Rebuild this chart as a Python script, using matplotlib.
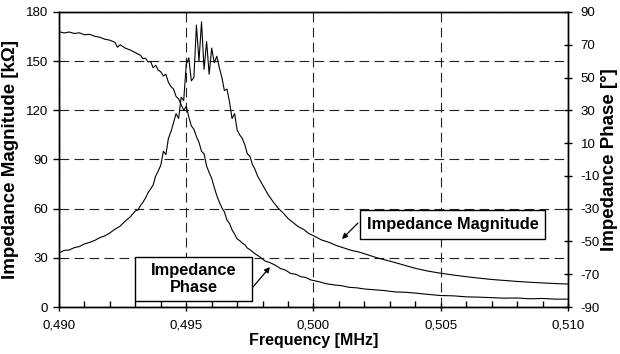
import numpy as np
import matplotlib
matplotlib.use('Agg')
import matplotlib.pyplot as plt
from matplotlib.patches import Rectangle
from matplotlib.ticker import MultipleLocator, FixedLocator, FuncFormatter

# Dados (frequência em MHz)
mag_freq = [0.4900, 0.4902, 0.4904, 0.4906, 0.4908, 0.4910, 0.4912, 0.4914, 0.4916, 0.4918,
            0.4920, 0.4922, 0.4924, 0.4926, 0.4928, 0.4930, 0.4931, 0.4932, 0.4933, 0.4934,
            0.4935, 0.4936, 0.4937, 0.4938, 0.4939, 0.4940, 0.4941, 0.4942, 0.4943, 0.4944,
            0.4945, 0.4946, 0.4947, 0.4948, 0.4949, 0.4950, 0.4951, 0.4952, 0.4953, 0.4954,
            0.4955, 0.4956, 0.4957, 0.4958, 0.4959, 0.4960, 0.4961, 0.4962, 0.4963, 0.4964,
            0.4965, 0.4966, 0.4967, 0.4968, 0.4969, 0.4970, 0.4971, 0.4972, 0.4973, 0.4974,
            0.4975, 0.4976, 0.4977, 0.4978, 0.4980, 0.4982, 0.4984, 0.4986, 0.4988, 0.4990,
            0.4992, 0.4994, 0.4996, 0.4998, 0.5000, 0.5003, 0.5006, 0.5009, 0.5012, 0.5015,
            0.5018, 0.5021, 0.5025, 0.5030, 0.5035, 0.5040, 0.5045, 0.5050, 0.5055, 0.5060,
            0.5065, 0.5070, 0.5075, 0.5080, 0.5085, 0.5090, 0.5095, 0.5100]
mag_kohm = [33.0, 34.5, 34.8, 36.2, 36.9, 38.5, 39.4, 40.6, 42.3, 43.4,
            45.2, 47.5, 49.3, 52.4, 55.0, 58.6, 59.2, 61.8, 64.0, 66.5,
            69.8, 72.0, 74.5, 80.0, 83.0, 86.5, 95.0, 93.0, 103.0, 107.0,
            112.5, 118.0, 115.0, 128.0, 126.0, 148.0, 152.0, 138.0, 140.0, 172.0,
            150.0, 174.0, 145.0, 162.0, 142.0, 158.0, 149.0, 153.0, 146.0, 140.0,
            132.0, 133.0, 125.0, 115.0, 118.0, 108.0, 105.0, 103.0, 99.0, 93.5,
            92.0, 87.0, 84.0, 80.0, 74.5, 69.0, 64.5, 60.5, 57.5, 54.0,
            51.5, 49.0, 47.5, 45.0, 43.5, 41.0, 39.5, 37.5, 36.0, 34.5,
            33.5, 32.0, 30.0, 28.0, 25.8, 23.6, 21.9, 20.6, 19.5, 18.5,
            17.6, 16.8, 16.2, 15.6, 15.1, 14.7, 14.3, 14.0]

ph_freq = [0.4900, 0.4902, 0.4904, 0.4906, 0.4908, 0.4910, 0.4912, 0.4914, 0.4916, 0.4918,
           0.4920, 0.4922, 0.4923, 0.4924, 0.4926, 0.4928, 0.4930, 0.4932, 0.4933, 0.4934,
           0.4935, 0.4936, 0.4937, 0.4938, 0.4939, 0.4940, 0.4941, 0.4942, 0.4943, 0.4944,
           0.4945, 0.4946, 0.4947, 0.4948, 0.4949, 0.4950, 0.4951, 0.4952, 0.4953, 0.4954,
           0.4955, 0.4956, 0.4957, 0.4958, 0.4959, 0.4960, 0.4961, 0.4962, 0.4963, 0.4964,
           0.4965, 0.4966, 0.4967, 0.4968, 0.4969, 0.4970, 0.4971, 0.4972, 0.4973, 0.4974,
           0.4975, 0.4977, 0.4979, 0.4981, 0.4983, 0.4985, 0.4987, 0.4989, 0.4991, 0.4993,
           0.4995, 0.4997, 0.4999, 0.5002, 0.5005, 0.5008, 0.5011, 0.5014, 0.5017, 0.5020,
           0.5024, 0.5028, 0.5032, 0.5036, 0.5040, 0.5045, 0.5050, 0.5055, 0.5060, 0.5065,
           0.5070, 0.5075, 0.5080, 0.5085, 0.5090, 0.5095, 0.5100]
ph_deg = [78.0, 77.2, 77.8, 76.9, 77.3, 76.1, 76.4, 75.2, 74.6, 73.4,
          72.8, 71.5, 68.5, 70.0, 68.0, 66.8, 65.2, 63.6, 61.5, 61.8,
          59.5, 59.8, 56.0, 57.5, 54.5, 53.5, 51.0, 52.0, 47.0, 44.5,
          43.0, 38.5, 37.0, 33.5, 30.0, 32.5, 26.0, 20.5, 18.5, 14.0,
          10.5, 5.0, 3.5, -4.0, -8.0, -11.5, -17.0, -22.0, -26.0, -29.5,
          -32.0, -37.0, -39.0, -43.0, -45.5, -48.5, -49.5, -51.0, -52.0, -54.0,
          -55.0, -57.5, -59.5, -62.0, -63.0, -64.5, -66.5, -67.5, -69.5, -70.0,
          -71.5, -72.0, -73.5, -74.5, -75.8, -76.5, -77.0, -78.0, -78.3, -79.0,
          -79.5, -80.0, -80.8, -81.0, -81.5, -82.3, -83.0, -83.2, -83.8, -84.0,
          -84.3, -84.6, -84.5, -85.0, -84.8, -85.2, -85.2]

phase_ticks = [-90, -70, -50, -30, -10, 10, 30, 50, 70, 90]

plt.rcParams['font.family'] = ['Liberation Sans', 'DejaVu Sans']
plt.rcParams['lines.scale_dashes'] = False

fig = plt.figure(figsize=(6.2, 3.54), dpi=100)
ax = fig.add_axes([59 / 620, 47 / 354, 509 / 620, 295 / 354])
ax2 = ax.twinx()

ax.plot(mag_freq, mag_kohm, color='black', lw=0.8, zorder=3)
ax2.plot(ph_freq, ph_deg, color='black', lw=0.8, zorder=3)

ax.set_xlim(0.490, 0.510)
ax.set_ylim(0, 180)
ax2.set_ylim(-90, 90)

ax.xaxis.set_major_locator(MultipleLocator(0.005))
ax.xaxis.set_minor_locator(MultipleLocator(0.001))
ax.xaxis.set_major_formatter(FuncFormatter(lambda v, p: f'{v:.3f}'.replace('.', ',')))
ax.yaxis.set_major_locator(MultipleLocator(30))
ax2.yaxis.set_major_locator(FixedLocator(phase_ticks))
ax2.yaxis.set_major_formatter(FuncFormatter(lambda v, p: f'{v:.0f}'))

# Grade tracejada
ax.grid(True, which='major', color='#222222', lw=0.8, linestyle=(0, (7, 3.8)))

for sp in list(ax.spines.values()) + list(ax2.spines.values()):
    sp.set_linewidth(1.0)

ax.tick_params(axis='x', which='major', direction='inout', length=6, width=1,
               labelsize=9.5, pad=6)
ax.tick_params(axis='x', which='minor', direction='in', length=4, width=1)
ax.tick_params(axis='y', which='major', direction='out', length=4, width=1,
               labelsize=9.5, pad=4)
ax2.tick_params(axis='y', which='major', direction='inout', length=6, width=1,
                labelsize=9.5, pad=6)

ax.set_xlabel('Frequency [MHz]', fontsize=11.5, fontweight='bold', labelpad=1)
ax.set_ylabel('Impedance Magnitude [k\u03a9]', fontsize=13.5, fontweight='bold', labelpad=5)
ax2.set_ylabel('Impedance Phase [\u00b0]', fontsize=13.5, fontweight='bold', labelpad=1)

# Caixas de anotação
ax2.add_patch(Rectangle((0.5914, 0.2305), 0.3634, 0.0983, transform=ax.transAxes,
                        facecolor='white', edgecolor='black', lw=1, zorder=5))
ax2.text(0.773, 0.279, 'Impedance Magnitude', transform=ax.transAxes, ha='center',
         va='center', fontsize=11.8, fontweight='bold', zorder=6)
ax2.add_patch(Rectangle((0.1493, 0.0203), 0.2299, 0.1492, transform=ax.transAxes,
                        facecolor='white', edgecolor='black', lw=1, zorder=5))
ax2.text(0.2643, 0.0949, 'Impedance\nPhase', transform=ax.transAxes, ha='center',
         va='center', fontsize=11.8, fontweight='bold', linespacing=1.1, zorder=6)

ax2.annotate('', xy=(0.556, 0.2305), xytext=(0.5874, 0.2847), xycoords=ax.transAxes,
             textcoords=ax.transAxes,
             arrowprops=dict(arrowstyle='-|>', color='black', lw=0.9,
                             mutation_scale=8, shrinkA=0, shrinkB=0), zorder=6)
ax2.annotate('', xy=(0.4145, 0.1356), xytext=(0.3811, 0.0678), xycoords=ax.transAxes,
             textcoords=ax.transAxes,
             arrowprops=dict(arrowstyle='-|>', color='black', lw=0.9,
                             mutation_scale=8, shrinkA=0, shrinkB=0), zorder=6)

plt.savefig('out.png', dpi=100)
plt.close()
